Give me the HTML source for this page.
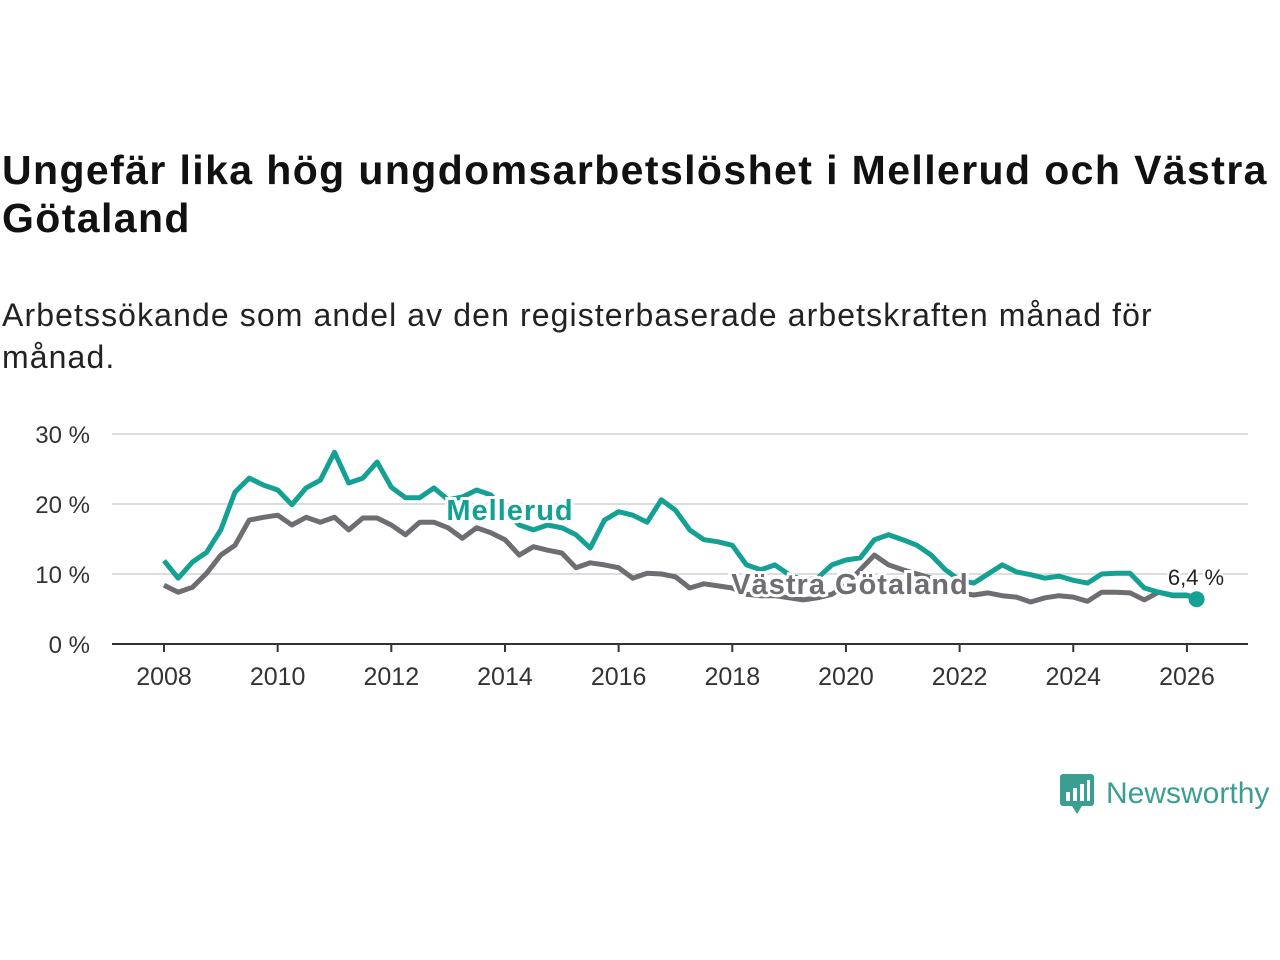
<!DOCTYPE html>
<html><head><meta charset="utf-8"><style>
body{margin:0;width:1280px;height:960px;background:#fff;font-family:"Liberation Sans",sans-serif;position:relative;overflow:hidden}
h1{position:absolute;left:2px;top:146px;margin:0;font-size:41px;line-height:48px;font-weight:bold;color:#111;width:1275px;letter-spacing:1.4px}
.sub{position:absolute;left:2px;top:294px;font-size:32px;line-height:42px;color:#222;width:1270px;letter-spacing:1.1px}
svg{position:absolute;left:0;top:0}
</style></head><body>
<h1>Ungefär lika hög ungdomsarbetslöshet i Mellerud och Västra Götaland</h1>
<div class="sub">Arbetssökande som andel av den registerbaserade arbetskraften månad för månad.</div>
<svg id="c" width="1280" height="960"></svg>
<div style="position:absolute;left:1060px;top:772px;display:flex;align-items:center">
<svg width="34" height="44" style="position:static"><rect x="0" y="2" width="34" height="32" rx="3" fill="#3a9e92"/><polygon points="12,34 22,34 17,42" fill="#3a9e92"/><rect x="6" y="20" width="4" height="9" fill="#fff"/><rect x="13" y="16" width="4" height="13" fill="#fff"/><rect x="20" y="12" width="4" height="17" fill="#fff"/><rect x="27" y="8" width="3" height="21" fill="#fff"/></svg>
<span style="font-size:30px;color:#3a9e92;margin-left:12px">Newsworthy</span></div>
<script>
const years=[2008,2010,2012,2014,2016,2018,2020,2022,2024,2026];
const yTicks=[0,10,20,30];
const mellerud=[11.9,9.4,11.7,13.1,16.3,21.7,23.7,22.7,22,19.9,22.3,23.4,27.4,23,23.7,26,22.4,20.9,20.9,22.3,20.6,21,22,21.3,19.1,17,16.3,17,16.6,15.6,13.7,17.7,18.9,18.4,17.4,20.6,19.1,16.3,14.9,14.6,14.1,11.3,10.6,11.3,9.9,9.1,9.4,11.3,12,12.3,14.9,15.6,14.9,14.1,12.7,10.6,9.1,8.7,10,11.3,10.3,9.9,9.4,9.7,9.1,8.7,10,10.1,10.1,8,7.4,7,7,6.4];
const vastra=[8.4,7.4,8.1,10.1,12.7,14.1,17.7,18.1,18.4,17,18.1,17.4,18.1,16.3,18,18,17,15.6,17.4,17.4,16.6,15.1,16.6,15.9,14.9,12.7,13.9,13.4,13,10.9,11.6,11.3,10.9,9.4,10.1,10,9.6,8,8.6,8.3,8,7.1,6.9,6.9,6.6,6.3,6.6,7.1,8.4,10.6,12.7,11.3,10.6,10,9.4,8.4,7.3,7,7.3,6.9,6.7,6,6.6,6.9,6.7,6.1,7.4,7.4,7.3,6.3,7.4,6.9,6.9,6.7];
const t=i=>i<73?2008+i*0.25:2026.17;
const X=v=>164+(v-2008)*56.83, Y=v=>644-v*7;
const s=document.getElementById('c'),NS='http://www.w3.org/2000/svg';
function mk(tag,a,txt){const e=document.createElementNS(NS,tag);for(const k in a)e.setAttribute(k,a[k]);if(txt!=null)e.textContent=txt;s.appendChild(e);return e;}
yTicks.forEach(v=>{
 if(v>0){const g=mk('line',{x1:112,x2:1248,y1:Y(v),y2:Y(v),stroke:'#ddd','stroke-width':2});
 
 }
 const l=mk('text',{x:90,y:Y(v)+9,'text-anchor':'end','font-size':24,fill:'#333'},v+' %');
 
 
});
const ax=mk('line',{x1:112,x2:1248,y1:644,y2:644,stroke:'#333','stroke-width':2});


years.forEach(y=>{
 const tk=mk('line',{x1:X(y),x2:X(y),y1:644,y2:652,stroke:'#333','stroke-width':2});
 
 
 const l=mk('text',{x:X(y),y:685,'text-anchor':'middle','font-size':25,fill:'#333'},y);
 
 
});
function line(d,c,n){const p=d.map((v,i)=>(i?'L':'M')+X(t(i)).toFixed(1)+','+Y(v).toFixed(1)).join('');
 const e=mk('path',{d:p,fill:'none',stroke:c,'stroke-width':5,'stroke-linejoin':'round'});
 
 }
line(vastra,'#6e6e72','line-vastra-gotaland');
line(mellerud,'#14a194','line-mellerud');
const dot=mk('circle',{cx:X(t(73)),cy:Y(mellerud[73]),r:8,fill:'#14a194'});


const lv=mk('text',{x:1196,y:585,'text-anchor':'middle','font-size':22,fill:'#222',stroke:'#fff','stroke-width':4,'paint-order':'stroke'},'6,4 %');


const l1=mk('text',{x:510,y:520,'text-anchor':'middle','font-size':29,'font-weight':'bold',fill:'#14a194',stroke:'#fff','stroke-width':6,'paint-order':'stroke','letter-spacing':1},'Mellerud');


const l2=mk('text',{x:850,y:594,'text-anchor':'middle','font-size':29,'font-weight':'bold',fill:'#6e6e72',stroke:'#fff','stroke-width':6,'paint-order':'stroke','letter-spacing':1},'Västra Götaland');


</script>
</body></html>
